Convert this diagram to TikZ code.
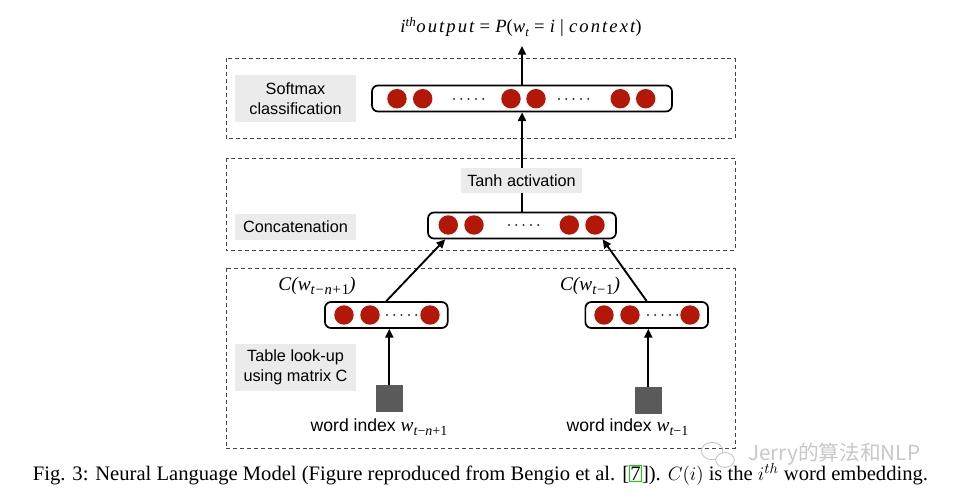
\documentclass[tikz,border=0pt]{standalone}
\usepackage{fontspec}
\setmainfont{Liberation Serif}
\setsansfont{Liberation Sans}
\newfontfamily\cjkwm{Noto Sans CJK SC}
\newfontfamily\spacedit{Liberation Serif}[LetterSpace=11]
\usetikzlibrary{arrows.meta,calc}
\definecolor{neuronred}{RGB}{180,22,8}
\definecolor{labelgray}{RGB}{235,235,235}
\definecolor{dashgray}{RGB}{70,70,70}
\definecolor{squaregray}{RGB}{90,90,90}
\definecolor{linkgreen}{RGB}{0,220,0}
\definecolor{wmgray}{RGB}{200,200,200}
\newcommand{\mysub}[2]{\raisebox{-0.45ex}{\fontsize{#1}{#1}\selectfont #2}}
\tikzset{
  layerbox/.style={draw=dashgray, dash pattern=on 3pt off 2.2pt, line width=0.7pt},
  graylabel/.style={fill=labelgray, font=\fontsize{12.2}{15}\sffamily, align=center, minimum width=90.75pt, inner sep=0pt},
  vecbox/.style={draw=black, line width=1.3pt, rounded corners=4.5pt, minimum height=19.5pt, inner sep=0pt},
  neuron/.style={circle, fill=neuronred, minimum size=14.6pt, inner sep=0pt},
  sqnode/.style={fill=squaregray, minimum size=20pt, inner sep=0pt},
  arr/.style={line width=1.4pt, -{Triangle[length=6.5pt,width=6pt]}},
  mathlbl/.style={font=\fontsize{14.5}{16}\selectfont\itshape, inner sep=0pt},
  sanslbl/.style={font=\fontsize{13.2}{15}\sffamily, inner sep=0pt},
  dotrow/.style={fill=black!80},
}
\begin{document}
\begin{tikzpicture}[x=0.75pt,y=-0.75pt]
\useasboundingbox[fill=white] (0,0) rectangle (974,502);

% layer boxes
\draw[layerbox] (226,58.3) rectangle (735,138.3);
\draw[layerbox] (226,158.5) rectangle (735,250.5);
\draw[layerbox] (226,268.3) rectangle (735,448.3);

% vectors
\node[vecbox, minimum width=225pt] (sm) at (522,98.5) {};
\node[vecbox, minimum width=141pt] (cc) at (522,225.5) {};
\node[vecbox, minimum width=92pt] (vl) at (386.3,315) {};
\node[vecbox, minimum width=92pt] (vr) at (646.7,315) {};

\foreach \x [count=\i] in {397,422.7,511,536,620.3,645.7}
  \node[neuron] (sm\i) at (\x,98.7) {};
\foreach \x [count=\i] in {448.3,474,569.3,595}
  \node[neuron] (cc\i) at (\x,225) {};
\foreach \x [count=\i] in {344,370,430}
  \node[neuron] (vl\i) at (\x,315) {};
\foreach \x [count=\i] in {604,630,690}
  \node[neuron] (vr\i) at (\x,315) {};

\foreach \s/\y in {454/99,559/99,509/225,387/315,648/315}
  \foreach \k in {0,1,2,3,4}
    \fill[dotrow] (\s+7.3*\k,\y) circle (0.85pt);

% output formula
\node[anchor=base, font=\fontsize{14}{15}\selectfont, inner sep=0pt] (out) at (521,33)
  {\textit{i}\textsuperscript{\textit{th}}{\spacedit\itshape output}\;=\;\textit{P}(\textit{w}\mysub{9.5}{\itshape t}\;=\;\textit{i}\;|\;{\spacedit\itshape context})};
\coordinate (outtip) at (522,46);
\draw[arr] (sm.north) -- (outtip);

% tanh arrow
\draw[arr] (cc.north) -- (sm.south);
\node[graylabel, minimum height=19pt] (tanh) at (521.5,180.7) {Tanh activation};

% arrows into concatenation
\draw[arr] (vl.north) -- ($(cc.south west)!0.095!(cc.south east)$);
\draw[arr] (vr.north) -- ($(cc.south west)!0.925!(cc.south east)$);

% word index squares
\node[sqnode] (ql) at (389.3,398.3) {};
\node[sqnode] (qr) at (648.3,400.7) {};
\draw[arr] (ql.north) -- (ql.north |- vl.south);
\draw[arr] (qr.north) -- (qr.north |- vr.south);

% side labels
\node[graylabel, minimum height=35pt] (soft) at (295.5,98.3) {Softmax\\classification};
\node[graylabel, minimum height=19.5pt] (conc) at (295.5,227) {Concatenation};
\node[graylabel, minimum height=35pt] (tab) at (295.5,367.5) {Table look-up\\using matrix C};

% C labels
\node[mathlbl, anchor=base] (cwl) at (317,291) {C(w\mysub{11}{t\kern0.6pt\upshape{}−\kern0.6pt\itshape{}n\kern0.6pt\upshape{}+\kern0.6pt1})};
\node[mathlbl, anchor=base] (cwr) at (590,291) {C(w\mysub{11}{t\kern0.6pt\upshape{}−\kern0.6pt1})};

% word index labels
\node[sanslbl, anchor=base] (wl) at (379,431)
  {word index {\fontsize{14.5}{15}\rmfamily\itshape w}\mysub{10.5}{\rmfamily\itshape t\upshape{}−\itshape{}n\upshape{}+1}};
\node[sanslbl, anchor=base] (wr) at (627.5,431)
  {word index {\fontsize{14.5}{15}\rmfamily\itshape w}\mysub{10.5}{\rmfamily\itshape t\upshape{}−1}};

% watermark
\draw[wmgray, line width=0.7pt] (712,451) ellipse (8pt and 6.5pt);
\draw[wmgray, line width=0.7pt, fill=white] (725,460) ellipse (7pt and 5.5pt);
\node[anchor=west, font=\cjkwm\fontsize{15.5}{18}\selectfont, text=wmgray, inner sep=0pt] (wm) at (748,454) {Jerry的算法和NLP};

% caption
\node[anchor=base west, font=\fontsize{15.45}{18}\selectfont, inner sep=0pt] (cap) at (32.7,480)
  {Fig. 3: Neural Language Model (Figure reproduced from Bengio et al. [{\setlength\fboxsep{0.4pt}\setlength\fboxrule{0.6pt}\fcolorbox{linkgreen}{white}{7}}]). $C(i)$ is the $i^{th}$ word embedding.};
\end{tikzpicture}
\end{document}
